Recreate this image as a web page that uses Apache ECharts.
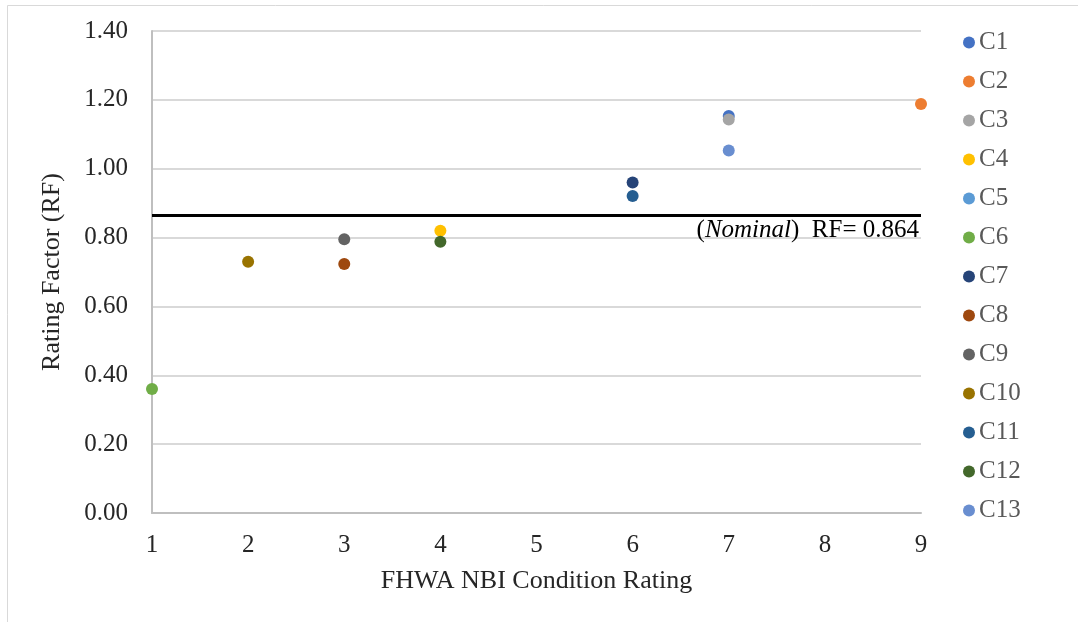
<!DOCTYPE html>
<html>
<head>
<meta charset="utf-8">
<script src="https://cdn.jsdelivr.net/npm/echarts@6/dist/echarts.min.js"></script>
<style>
  html, body { margin: 0; padding: 0; background: #ffffff; }
  #chart { width: 1078px; height: 622px; }
</style>
</head>
<body>
<div id="chart"></div>
<script>
// Culvert series and their measured points (condition rating vs rating factor)
const seriesNames = ['C1', 'C2', 'C3', 'C4', 'C5', 'C6', 'C7', 'C8', 'C9', 'C10', 'C11', 'C12', 'C13'];
const conditionRating = [7, 9, 7, 4, null, 1, 6, 3, 3, 2, 6, 4, 7];
const ratingFactor = [1.153, 1.188, 1.143, 0.820, null, 0.360, 0.960, 0.723, 0.795, 0.730, 0.921, 0.788, 1.053];
const nominalRF = 0.864;
const xTicks = [1, 2, 3, 4, 5, 6, 7, 8, 9];
const yTicks = [0, 0.2, 0.4, 0.6, 0.8, 1.0, 1.2, 1.4];

const palette = ['#4472C4', '#ED7D31', '#A5A5A5', '#FFC000', '#5B9BD5', '#70AD47',
                 '#264478', '#9E480E', '#636363', '#997300', '#255E91', '#43682B', '#698ED0'];

const serif = '"Liberation Serif", "DejaVu Serif", serif';
const chart = echarts.init(document.getElementById('chart'));

const scatterSeries = seriesNames.map((name, i) => ({
  name: name,
  type: 'scatter',
  symbol: 'circle',
  symbolSize: 12,
  itemStyle: { color: palette[i], opacity: 1 },
  data: conditionRating[i] == null ? [] : [[conditionRating[i], ratingFactor[i]]],
  z: 3 + i
}));

// Nominal rating-factor reference line with its caption
scatterSeries.push({
  name: 'nominal',
  type: 'line',
  data: [[xTicks[0], nominalRF], [xTicks[xTicks.length - 1], nominalRF]],
  symbol: 'none',
  silent: true,
  lineStyle: { color: '#000000', width: 3 },
  z: 2,
  markPoint: {
    symbol: 'circle',
    symbolSize: 0,
    silent: true,
    data: [{
      coord: [xTicks[xTicks.length - 1], nominalRF],
      label: {
        show: true,
        position: 'inside',
        align: 'right',
        verticalAlign: 'top',
        offset: [-2, 2],
        formatter: '{n|(}{i|Nominal}{n|)  RF= ' + nominalRF + '}',
        rich: {
          n: { fontFamily: serif, fontSize: 25, color: '#000000' },
          i: { fontFamily: serif, fontSize: 25, fontStyle: 'italic', color: '#000000' }
        }
      }
    }]
  }
});

chart.setOption({
  animation: false,
  backgroundColor: '#ffffff',
  graphic: [{
    type: 'rect',
    shape: { x: 7.5, y: 5.5, width: 1200, height: 800 },
    style: { fill: 'none', stroke: '#d9d9d9', lineWidth: 1 },
    silent: true,
    z: -1
  }],
  grid: { left: 152, right: 157, top: 31, bottom: 109 },
  legend: {
    orient: 'vertical',
    left: 958,
    top: 25,
    itemGap: 14,
    itemWidth: 12,
    itemHeight: 12,
    data: seriesNames.map(n => ({ name: n, icon: 'circle' })),
    textStyle: { fontFamily: serif, fontSize: 25, color: '#595959', padding: [0, 0, 0, -1] }
  },
  xAxis: {
    type: 'value',
    min: xTicks[0],
    max: xTicks[xTicks.length - 1],
    interval: 1,
    name: 'FHWA NBI Condition Rating',
    nameLocation: 'middle',
    nameGap: 55,
    nameTextStyle: { fontFamily: serif, fontSize: 26, color: '#262626' },
    axisLine: { show: true, lineStyle: { color: '#bfbfbf', width: 2 } },
    axisTick: { show: false },
    splitLine: { show: false },
    axisLabel: { fontFamily: serif, fontSize: 25, color: '#262626', margin: 20 }
  },
  yAxis: {
    type: 'value',
    min: yTicks[0],
    max: yTicks[yTicks.length - 1],
    interval: 0.2,
    name: 'Rating Factor (RF)',
    nameLocation: 'middle',
    nameGap: 87,
    nameTextStyle: { fontFamily: serif, fontSize: 26, color: '#262626' },
    axisLine: { show: true, lineStyle: { color: '#bfbfbf', width: 2 } },
    axisTick: { show: false },
    splitLine: { show: true, lineStyle: { color: '#d9d9d9', width: 2 } },
    axisLabel: {
      fontFamily: serif, fontSize: 25, color: '#262626', margin: 24,
      formatter: v => v.toFixed(2)
    }
  },
  series: scatterSeries
});
</script>
</body>
</html>
